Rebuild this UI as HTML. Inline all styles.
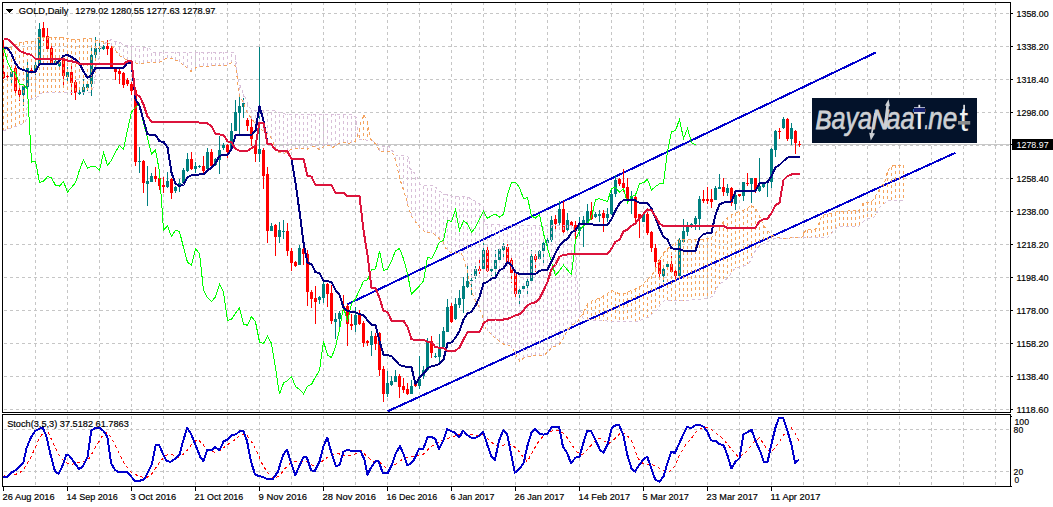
<!DOCTYPE html>
<html><head><meta charset="utf-8"><title>GOLD Daily</title>
<style>html,body{margin:0;padding:0;background:#fff}body{width:1053px;height:507px;overflow:hidden}</style></head>
<body>
<svg width="1053" height="507" viewBox="0 0 1053 507" style="display:block;font-family:'Liberation Sans',sans-serif">
<rect width="1053" height="507" fill="#fff"/>
<path d="M35.5 2V412M35.5 416V486M67.5 2V412M67.5 416V486M99.5 2V412M99.5 416V486M131.5 2V412M131.5 416V486M163.5 2V412M163.5 416V486M195.5 2V412M195.5 416V486M227.5 2V412M227.5 416V486M259.5 2V412M259.5 416V486M291.5 2V412M291.5 416V486M323.5 2V412M323.5 416V486M355.5 2V412M355.5 416V486M387.5 2V412M387.5 416V486M419.5 2V412M419.5 416V486M451.5 2V412M451.5 416V486M483.5 2V412M483.5 416V486M515.5 2V412M515.5 416V486M547.5 2V412M547.5 416V486M579.5 2V412M579.5 416V486M611.5 2V412M611.5 416V486M643.5 2V412M643.5 416V486M675.5 2V412M675.5 416V486M707.5 2V412M707.5 416V486M739.5 2V412M739.5 416V486M771.5 2V412M771.5 416V486M803.5 2V412M803.5 416V486M835.5 2V412M835.5 416V486M867.5 2V412M867.5 416V486M899.5 2V412M899.5 416V486M931.5 2V412M931.5 416V486M963.5 2V412M963.5 416V486M995.5 2V412M995.5 416V486" stroke="#c6c6c6" stroke-dasharray="3 3" fill="none" shape-rendering="crispEdges"/>
<path d="M4 13.5H1010M4 46.5H1010M4 79.5H1010M4 112.5H1010M4 145.5H1010M4 178.5H1010M4 211.5H1010M4 244.5H1010M4 277.5H1010M4 310.5H1010M4 343.5H1010M4 376.5H1010M4 409.5H1010M4 429.5H1010M4 471.5H1010" stroke="#c6c6c6" stroke-dasharray="3 3" fill="none" shape-rendering="crispEdges"/>
<path d="M3 144.5H1010" stroke="#c8c8c8" fill="none" shape-rendering="crispEdges"/>
<path d="M347.5 304.2L875.6 52.6M387.6 411.3L955.3 152.8" stroke="#0000cd" stroke-width="2" fill="none" shape-rendering="crispEdges"/>
<g shape-rendering="crispEdges"><path d="M3.5 40V79M7.5 74V80M15.5 66V95M19.5 85V101M31.5 68V74M43.5 22V41M47.5 28V52M51.5 46V64M63.5 57V88M71.5 63V95M75.5 80V100M107.5 40V55M111.5 45V68M115.5 67V80M119.5 68V84M123.5 72V88M127.5 78V86M131.5 82V95M135.5 88V166M143.5 160V193M155.5 167V182M159.5 177V190M163.5 177V193M171.5 178V199M191.5 152V170M203.5 156V174M211.5 149V167M227.5 144V158M247.5 118V131M251.5 117V146M255.5 145V162M263.5 148V189M267.5 167V243M275.5 224V256M287.5 223V256M291.5 248V271M295.5 261V267M303.5 248V265M307.5 250V306M311.5 290V308M315.5 286V324M327.5 283V307M331.5 285V324M343.5 295V311M347.5 304V346M351.5 314V330M359.5 310V325M363.5 321V347M367.5 340V346M375.5 333V350M379.5 332V376M383.5 366V402M399.5 374V398M403.5 378V393M407.5 383V395M415.5 383V387M431.5 336V358M451.5 303V323M479.5 260V274M487.5 246V272M507.5 244V264M511.5 258V283M515.5 272V298M535.5 254V272M555.5 215V229M563.5 201V234M571.5 221V229M575.5 221V239M591.5 202V220M603.5 210V232M619.5 178V186M623.5 169V192M627.5 178V200M635.5 196V223M639.5 214V238M647.5 212V235M651.5 231V252M655.5 244V268M659.5 260V278M671.5 256V273M675.5 268V281M703.5 190V203M707.5 187V204M711.5 189V208M723.5 178V196M731.5 187V206M739.5 194V197M747.5 173V186M755.5 178V193M779.5 128V139M787.5 118V141M795.5 130V154M799.5 141V147" stroke="#f00" fill="none"/><path d="M11.5 70V83M23.5 85V106M27.5 62V89M35.5 62V75M39.5 23V64M55.5 59V64M59.5 60V68M67.5 67V84M79.5 90V95M83.5 79V95M87.5 81V91M91.5 47V96M95.5 37V59M99.5 43V54M103.5 45V50M139.5 147V173M147.5 166V206M151.5 173V182M167.5 172V188M175.5 186V193M179.5 179V192M183.5 168V183M187.5 153V172M195.5 162V173M199.5 165V168M207.5 148V170M215.5 158V166M219.5 136V174M223.5 143V150M231.5 123V150M235.5 100V131M239.5 97V134M243.5 98V118M259.5 47V162M271.5 223V231M279.5 222V243M283.5 220V239M299.5 245V265M319.5 296V304M323.5 279V303M335.5 313V339M339.5 311V328M355.5 307V332M371.5 331V356M387.5 371V397M391.5 376V386M395.5 370V382M411.5 380V394M419.5 356V389M423.5 366V379M427.5 338V371M435.5 353V358M439.5 334V364M443.5 327V348M447.5 299V332M455.5 298V320M459.5 290V308M463.5 277V313M467.5 264V288M471.5 274V295M475.5 266V279M483.5 243V270M491.5 266V276M495.5 250V279M499.5 248V261M503.5 243V260M519.5 288V306M523.5 284V290M527.5 276V294M531.5 250V282M539.5 250V260M543.5 240V264M547.5 237V246M551.5 216V242M559.5 201V226M567.5 213V232M579.5 217V236M583.5 216V247M587.5 204V224M595.5 212V218M599.5 210V222M607.5 208V222M611.5 190V215M615.5 175V197M631.5 191V214M643.5 212V222M663.5 266V282M667.5 263V268M679.5 238V277M683.5 219V242M687.5 222V236M691.5 223V228M695.5 216V230M699.5 196V230M715.5 186V200M719.5 174V189M727.5 184V196M735.5 194V210M743.5 182V201M751.5 178V203M759.5 158V192M763.5 184V188M767.5 180V197M771.5 148V188M775.5 130V157M783.5 117V129M791.5 123V145" stroke="#008080" fill="none"/><path d="M2.0 72h3v6h-3zM6.0 76h3v1h-3zM14.0 68h3v23h-3zM18.0 90h3v5h-3zM30.0 70h3v2h-3zM42.0 28h3v10h-3zM46.0 36h3v13h-3zM50.0 48h3v15h-3zM62.0 58h3v18h-3zM70.0 72h3v11h-3zM74.0 82h3v11h-3zM106.0 46h3v3h-3zM110.0 48h3v19h-3zM114.0 68h3v4h-3zM118.0 71h3v3h-3zM122.0 73h3v12h-3zM126.0 80h3v4h-3zM130.0 84h3v7h-3zM134.0 90h3v72h-3zM142.0 161h3v22h-3zM154.0 176h3v3h-3zM158.0 178h3v8h-3zM162.0 185h3v2h-3zM170.0 179h3v14h-3zM190.0 159h3v10h-3zM202.0 166h3v5h-3zM210.0 152h3v14h-3zM226.0 145h3v7h-3zM246.0 120h3v6h-3zM250.0 127h3v12h-3zM254.0 146h3v8h-3zM262.0 150h3v26h-3zM266.0 174h3v57h-3zM274.0 225h3v12h-3zM286.0 231h3v20h-3zM290.0 251h3v12h-3zM294.0 262h3v4h-3zM302.0 249h3v5h-3zM306.0 254h3v38h-3zM310.0 292h3v7h-3zM314.0 298h3v4h-3zM326.0 284h3v10h-3zM330.0 293h3v28h-3zM342.0 306h3v2h-3zM346.0 306h3v18h-3zM350.0 324h3v2h-3zM358.0 315h3v9h-3zM362.0 323h3v20h-3zM366.0 341h3v2h-3zM374.0 336h3v8h-3zM378.0 333h3v37h-3zM382.0 369h3v25h-3zM398.0 376h3v11h-3zM402.0 386h3v4h-3zM406.0 389h3v5h-3zM414.0 384h3v2h-3zM430.0 341h3v12h-3zM450.0 306h3v16h-3zM478.0 269h3v2h-3zM486.0 250h3v21h-3zM506.0 247h3v16h-3zM510.0 260h3v13h-3zM514.0 273h3v21h-3zM534.0 256h3v4h-3zM554.0 219h3v5h-3zM562.0 209h3v23h-3zM570.0 222h3v4h-3zM574.0 225h3v6h-3zM590.0 211h3v8h-3zM602.0 213h3v5h-3zM618.0 179h3v5h-3zM622.0 183h3v5h-3zM626.0 187h3v12h-3zM634.0 197h3v21h-3zM638.0 214h3v5h-3zM646.0 214h3v19h-3zM650.0 232h3v16h-3zM654.0 248h3v14h-3zM658.0 260h3v14h-3zM670.0 264h3v8h-3zM674.0 271h3v5h-3zM702.0 199h3v2h-3zM706.0 199h3v2h-3zM710.0 199h3v3h-3zM722.0 187h3v5h-3zM730.0 188h3v15h-3zM738.0 194h3v2h-3zM746.0 183h3v1h-3zM754.0 178h3v12h-3zM778.0 131h3v1h-3zM786.0 119h3v20h-3zM794.0 131h3v12h-3zM798.0 144h3v1h-3z" fill="#f00"/><path d="M10.0 72h3v5h-3zM22.0 86h3v9h-3zM26.0 68h3v19h-3zM34.0 65h3v7h-3zM38.0 29h3v35h-3zM54.0 61h3v2h-3zM58.0 62h3v4h-3zM66.0 72h3v5h-3zM78.0 92h3v2h-3zM82.0 87h3v5h-3zM86.0 84h3v4h-3zM90.0 55h3v29h-3zM94.0 48h3v7h-3zM98.0 48h3v1h-3zM102.0 46h3v3h-3zM138.0 161h3v1h-3zM146.0 181h3v3h-3zM150.0 176h3v6h-3zM166.0 181h3v6h-3zM174.0 187h3v4h-3zM178.0 183h3v4h-3zM182.0 170h3v13h-3zM186.0 159h3v12h-3zM194.0 166h3v3h-3zM198.0 166h3v1h-3zM206.0 152h3v17h-3zM214.0 159h3v6h-3zM218.0 150h3v10h-3zM222.0 145h3v3h-3zM230.0 131h3v18h-3zM234.0 112h3v19h-3zM238.0 106h3v7h-3zM242.0 103h3v4h-3zM258.0 149h3v5h-3zM270.0 226h3v5h-3zM278.0 230h3v7h-3zM282.0 231h3v1h-3zM298.0 248h3v17h-3zM318.0 297h3v3h-3zM322.0 284h3v14h-3zM334.0 319h3v3h-3zM338.0 313h3v6h-3zM354.0 315h3v10h-3zM370.0 336h3v9h-3zM386.0 383h3v11h-3zM390.0 381h3v4h-3zM394.0 376h3v6h-3zM410.0 386h3v8h-3zM418.0 379h3v7h-3zM422.0 370h3v6h-3zM426.0 341h3v29h-3zM434.0 356h3v1h-3zM438.0 347h3v10h-3zM442.0 331h3v16h-3zM446.0 307h3v25h-3zM454.0 304h3v15h-3zM458.0 298h3v7h-3zM462.0 286h3v13h-3zM466.0 281h3v6h-3zM470.0 280h3v1h-3zM474.0 269h3v7h-3zM482.0 250h3v19h-3zM490.0 269h3v2h-3zM494.0 260h3v9h-3zM498.0 249h3v11h-3zM502.0 246h3v4h-3zM518.0 290h3v4h-3zM522.0 286h3v3h-3zM526.0 281h3v5h-3zM530.0 256h3v25h-3zM538.0 251h3v8h-3zM542.0 243h3v8h-3zM546.0 240h3v3h-3zM550.0 220h3v20h-3zM558.0 209h3v14h-3zM566.0 220h3v10h-3zM578.0 227h3v4h-3zM582.0 220h3v5h-3zM586.0 211h3v12h-3zM594.0 214h3v3h-3zM598.0 214h3v2h-3zM606.0 214h3v4h-3zM610.0 194h3v20h-3zM614.0 180h3v14h-3zM630.0 196h3v3h-3zM642.0 214h3v8h-3zM662.0 269h3v7h-3zM666.0 264h3v3h-3zM678.0 240h3v36h-3zM682.0 231h3v11h-3zM686.0 226h3v6h-3zM690.0 224h3v3h-3zM694.0 218h3v6h-3zM698.0 199h3v20h-3zM714.0 188h3v12h-3zM718.0 187h3v2h-3zM726.0 188h3v5h-3zM734.0 195h3v9h-3zM742.0 182h3v14h-3zM750.0 178h3v6h-3zM758.0 186h3v5h-3zM762.0 184h3v3h-3zM766.0 181h3v2h-3zM770.0 149h3v33h-3zM774.0 131h3v19h-3zM782.0 119h3v9h-3zM790.0 128h3v11h-3z" fill="#008080"/></g>
<g fill="none" stroke-dasharray="3 3" shape-rendering="crispEdges">
<path d="M111.5 46V40M115.5 51V42M119.5 56V42M123.5 58V46M127.5 60V46M131.5 62V46M135.5 63V46M139.5 64V46M143.5 63V47M147.5 63V48M151.5 62V50M155.5 62V52M159.5 62V52M163.5 60V52M167.5 58V52M171.5 59V52M175.5 60V52M179.5 62V52M183.5 65V52M187.5 68V52M191.5 71V52M195.5 68V52M199.5 67V52M203.5 66V52M207.5 66V52M211.5 66V52M215.5 66V52M219.5 66V52M223.5 66V52M227.5 65V52M231.5 63V52M235.5 66V57M239.5 96V84M243.5 103V94M247.5 113V103M251.5 119V109M255.5 124V110M259.5 128V110M263.5 131V110M267.5 134V110M271.5 139V110M275.5 148V111M279.5 153V113M283.5 154V114M287.5 151V114M291.5 150V114M295.5 148V114M299.5 149V114M303.5 149V114M307.5 149V114M311.5 146V114M315.5 147V114M319.5 150V114M323.5 146V114M327.5 145V114M331.5 147V114M335.5 146V114M339.5 143V114M343.5 142V114M347.5 143V114M351.5 143V114M355.5 141V117M379.5 151V145M383.5 151V147M387.5 151V147M391.5 151V150M395.5 160V155M399.5 178V155M403.5 190V155M407.5 204V157M411.5 216V170M415.5 222V175M419.5 227V183M423.5 231V185M427.5 233V186M431.5 233V186M435.5 235V187M439.5 239V191M443.5 243V194M447.5 250V195M451.5 252V196M455.5 253V196M459.5 254V197M463.5 259V197M467.5 272V197M471.5 290V199M475.5 301V201M479.5 308V204M483.5 320V207M487.5 331V225M491.5 335V225M495.5 338V225M499.5 341V225M503.5 344V225M507.5 345V225M511.5 348V225M515.5 354V225M519.5 361V225M523.5 358V225M527.5 357V225M531.5 356V225M535.5 355V225M539.5 356V225M543.5 356V225M547.5 352V225M551.5 348V225M555.5 346V225M559.5 344V225M563.5 338V225M567.5 330V225M571.5 325V225M575.5 323V240M579.5 318V307" stroke="#d8bfd8"/><path d="M3.5 50V131M7.5 48V129M11.5 47V128M15.5 45V126M19.5 43V125M23.5 42V123M27.5 41V103M31.5 41V99M35.5 41V97M39.5 37V95M43.5 37V93M47.5 37V92M51.5 37V92M55.5 37V92M59.5 37V92M63.5 37V92M67.5 39V92M71.5 39V92M75.5 40V92M79.5 39V92M83.5 39V92M87.5 39V92M91.5 39V91M95.5 40V74M99.5 40V54M103.5 42V44M359.5 129V138M363.5 115V140M367.5 122V140M583.5 312V318M587.5 305V319M591.5 301V320M595.5 300V320M599.5 298V320M603.5 296V321M607.5 293V321M611.5 290V321M615.5 292V322M619.5 293V322M623.5 293V322M627.5 292V322M631.5 291V322M635.5 289V322M639.5 287V321M643.5 284V319M647.5 279V317M651.5 276V314M655.5 269V311M659.5 259V306M663.5 253V301M667.5 249V301M671.5 246V301M675.5 243V301M679.5 240V301M683.5 240V301M687.5 240V301M691.5 240V300M695.5 239V299M699.5 239V299M703.5 239V299M707.5 239V299M711.5 237V297M715.5 233V290M719.5 228V284M723.5 222V281M727.5 217V278M731.5 215V273M735.5 213V268M739.5 212V267M743.5 210V266M747.5 208V264M751.5 205V258M755.5 209V250M759.5 215V246M763.5 225V244M767.5 231V242M771.5 235V240M803.5 233V238M807.5 230V238M811.5 230V238M815.5 229V238M819.5 222V238M823.5 215V238M827.5 214V238M831.5 214V233M835.5 213V229M839.5 211V226M843.5 211V226M847.5 211V226M851.5 211V226M855.5 211V226M859.5 210V225M863.5 203V222M867.5 202V219M871.5 202V219M875.5 196V215M879.5 189V207M883.5 184V204M887.5 172V201M891.5 167V200M895.5 165V200M899.5 165V200M903.5 165V200" stroke="#f4a460"/>
<polyline points="3,131 12.4,127.3 20.7,124.8 25.9,121 27.6,101.6 33,98 37.9,96.8 41,93.3 44,92.5 91,92.5 93.7,86.8 96,70.2 99,55 103,44.5 107,42 111,39.7 115.7,41.8 120.5,42.6 123.6,45.8 140,46.3 150,48.9 153,52.1 232,52.1 235.2,53.7 236,61.6 237.6,75.8 239.2,83.6 243.1,93.1 246.3,100.2 250.5,108.9 255.2,110.5 274.2,110.5 277.3,112.1 286.8,114.5 353,114.5 356.3,117.9 358,135 360,139.5 366,140 372,140.3 376.8,143.1 381.6,146.6 389.4,146.6 391.8,150.2 395.8,155 405.2,155 408.4,157.3 410,168.4 414.7,173.1 417.8,178.6 420.2,184.2 424.2,185.7 435.2,186 436.8,189 437.9,190 444.2,194 452,196.3 467.8,197.1 472.6,199.5 480.5,204.2 483.6,207.4 485.2,224.7 527.8,225.5 573,225 575.5,240 576.8,279.5 578.3,293.7 579.1,306.3 583,318 590,320 599.4,320.2 607.3,321 615.2,321.8 638.9,321.8 642,319.4 648.4,317.1 653.1,313.1 657.8,309.2 661,303.6 664.1,300.8 686.2,300.8 694.1,299.2 708.3,298.9 713.1,295.8 716.2,288.7 719.6,284 724,281 728,278 732,272 735.2,268.1 738.4,267.3 744.7,265.7 749.4,262.6 752.6,256.3 755.7,250 760.5,245.2 766.8,242.1 771.5,239.7 776.2,238.1 827.3,237.8 830.3,234.8 835.2,228.9 839.2,226 858.9,226 862.9,222 866.8,219 872.7,218.7 876.7,213.1 879.6,207.2 884.6,203.3 888.5,200.3 903.5,200.3" stroke="#d8bfd8"/>
<polyline points="3,50 11,47 19,43 23,41.6 35,41 39,37.3 63,37.3 67,38.7 75,40 83,38.7 91,38.7 95,40.3 99,40.3 103,41.5 107,42.5 111,45 115,50 119,55.2 123,58 127,60 133,62.3 139,63.9 147,63 151.6,62.3 159.5,62.3 167.4,57.6 173.7,59.2 179.2,61.6 183.9,65.5 191,71.3 195.8,67.9 202,66.3 227.3,65.5 232,62.3 236,67.1 237.6,82 239.5,96.3 243.4,102.6 247.4,112.9 251,118 255,123 259,127 263,131 268.7,134.2 272.6,140.5 275,147.6 278.9,152.3 283.6,153.9 288.4,150.7 294.7,148.4 301,148.7 307.3,149.2 312,146 316,147.1 320,150 324.7,145.2 328.6,145.5 332.6,147.6 337.3,144.4 342,142.1 348.3,143.6 355.4,141.3 359.4,130 361,121.6 363.5,114.8 367.4,121 369.7,133.7 371.3,140.8 376,143.9 379.2,151 391.8,151.3 393.4,155 395.8,160.5 397.3,167.6 399.7,178.6 403,188.5 405.5,196.3 407.9,205.8 411,215.2 415.8,222.3 420.5,228.2 426,232.6 433.1,233.4 437.9,237.3 443,242.2 445.8,248.5 450.5,252.3 461.6,254 463.9,260 467,270 469.4,282 471.5,290 474.2,298.4 478.9,306.8 482.1,315 485.8,328.9 490.5,333.7 496.8,339.2 503.1,343.9 509.4,345.5 513.4,349.4 515.8,355 519.7,361.3 523.6,358.1 530,356.5 533.1,355 537.9,355.8 543.4,355.8 548.1,351.8 552,347.1 558.4,345.5 563.1,339.2 566.3,332.1 571,325.8 577.3,321.8 582,314.7 584.7,310.2 587.8,303.9 592.5,300.8 598.9,298.4 605.2,295.2 611.5,290.5 618.4,293.4 624.7,293.4 631,290.7 637.3,288.2 642,285.5 646.8,280 651.5,276 654.7,270.5 659.5,259.4 664.2,252.3 668.9,247.6 673.7,244.4 678.4,239.7 691,239.7 697.3,239.2 710,238.9 714.7,234.2 719.4,227.9 724.2,220.8 728.9,216 735.2,212.9 743.1,210.5 747.8,208.1 751,205 754.9,208.1 758.9,213.7 760.5,218.4 763.6,225.5 767.6,230.7 771.5,235 776.2,237.3 784.1,238.1 801.7,237.8 803.7,232.9 806.6,229.9 815.5,229.3 818.5,224 821.4,217.1 824.4,214.1 834.3,213.5 837.2,211.2 858.9,210.8 861.9,206.2 862.9,202.9 871.7,201.7 874.7,197.3 877.7,192.4 880.6,186.5 884.6,182.5 886.5,173.7 889.5,167.8 893.4,165.4 903.5,165.4" stroke="#f4a460"/>
</g>
<polyline points="3.5,48 7.5,61.5 11.5,70.6 15.5,73 19.5,84.2 23.5,84.2 27.5,89.3 31.5,162.1 35.5,161.3 39.5,182.3 43.5,181.3 47.5,176.6 51.5,177.9 55.5,185.3 59.5,186.2 63.5,181.5 67.5,192.1 71.5,187.3 75.5,182.6 79.5,170 83.5,159.7 87.5,168.4 91.5,166.4 95.5,166.4 99.5,170.3 103.5,152.6 107.5,165.2 111.5,160.5 115.5,151.8 119.5,145.5 123.5,149.2 127.5,130 131.5,112 135.5,107.4 139.5,103.9 143.5,123 147.5,138 151.5,154.2 155.5,149.8 159.5,171.6 163.5,230 167.5,226 171.5,236.6 175.5,230.3 179.5,231.6 183.5,247.3 187.5,262.3 191.5,265 195.5,248.6 199.5,253.6 203.5,290 207.5,297.6 211.5,301.6 215.5,296.8 219.5,284.5 223.5,292.1 227.5,320.5 231.5,319.2 235.5,313.4 239.5,307.6 243.5,324.4 247.5,325.2 251.5,316.5 255.5,322 259.5,342 263.5,343.5 267.5,336 271.5,343.5 275.5,368.1 279.5,394.2 283.5,383.1 287.5,380.7 291.5,376.5 295.5,386.6 299.5,389.4 303.5,393.8 307.5,386.3 311.5,384.4 315.5,376.8 319.5,370.5 323.5,341.3 327.5,355 331.5,357.6 335.5,346.8 339.5,329.5 343.5,307 347.5,321.6 351.5,303.4 355.5,299 359.5,290 363.5,281.2 367.5,279.7 371.5,269.7 375.5,268.9 379.5,251 383.5,270.5 387.5,269.3 391.5,261 395.5,250.8 399.5,248.4 403.5,258.7 407.5,273.7 411.5,294.2 415.5,290.2 419.5,286 423.5,280.8 427.5,257.1 431.5,258.7 435.5,250.8 439.5,242.1 443.5,240.2 447.5,220.3 451.5,221.6 455.5,209.7 459.5,230.7 463.5,220.8 467.5,223.9 471.5,232.3 475.5,227.1 479.5,219.2 483.5,211.3 487.5,218.4 491.5,215.5 495.5,214.4 499.5,217.1 503.5,214.4 507.5,194.7 511.5,182.1 515.5,182.1 519.5,187.6 523.5,198.7 527.5,197.6 531.5,216 535.5,218 539.5,214.4 543.5,233.7 547.5,247.9 551.5,262 555.5,275.5 559.5,270.7 563.5,265.2 567.5,270 571.5,274.7 575.5,240 579.5,230.5 583.5,225.8 587.5,223.4 591.5,217.1 595.5,199.8 599.5,198.7 603.5,200.2 607.5,201.3 611.5,188.7 615.5,187.1 619.5,192.3 623.5,188.7 627.5,202.9 631.5,196.5 635.5,195 639.5,183.5 643.5,182.8 647.5,179.2 651.5,190.2 655.5,186.3 659.5,183.9 663.5,183.1 667.5,151.6 671.5,131.6 675.5,130.8 679.5,119.3 683.5,138.7 687.5,128.4 691.5,142.6 695.5,145" fill="none" stroke="#0f0" stroke-width="1" shape-rendering="crispEdges"/>
<polyline points="3.5,47.9 7.5,47.9 11.5,54 15.5,63.6 19.5,68.4 23.5,70 27.5,71.5 31.5,71.5 35.5,71.5 39.5,64.4 43.5,64.4 47.5,64.4 51.5,64.4 55.5,64.4 59.5,60.5 63.5,55.8 67.5,55 71.5,57 75.5,59.7 79.5,63.7 83.5,71.5 87.5,77.8 91.5,75.5 95.5,67.6 99.5,67.6 103.5,67.6 107.5,67.6 111.5,67.6 115.5,67.6 119.5,67.6 123.5,67.6 127.5,62.9 131.5,62.9 135.5,99 139.5,106 143.5,120.2 147.5,134.4 151.5,134.7 155.5,135 159.5,141.3 163.5,141.8 167.5,147.3 171.5,172.6 175.5,183.5 179.5,186 183.5,184.5 187.5,177.3 191.5,175.4 195.5,175 199.5,174.5 203.5,174.2 207.5,170.2 211.5,167.8 215.5,163.1 219.5,156 223.5,154.9 227.5,154.9 231.5,148.9 235.5,135.5 239.5,135 243.5,135 247.5,135 251.5,135 255.5,130.8 259.5,106 263.5,121 267.5,144 271.5,144.5 275.5,150 279.5,150.9 283.5,150.9 287.5,151.5 291.5,159 295.5,183 299.5,211.5 303.5,242.5 307.5,263.1 311.5,263.9 315.5,272.3 319.5,272.9 323.5,280.8 327.5,281.3 331.5,281.8 335.5,290 339.5,294.7 343.5,307.5 347.5,311 351.5,311.8 355.5,312.3 359.5,314.2 363.5,315 367.5,320.5 371.5,324.9 375.5,325.2 379.5,341 383.5,354.7 387.5,355.3 391.5,355.9 395.5,360.6 399.5,365.1 403.5,366.2 407.5,366.9 411.5,367.1 415.5,384.2 419.5,377.6 423.5,373.9 427.5,368.5 431.5,366.2 435.5,365.4 439.5,363.8 443.5,359.8 447.5,343.4 451.5,342.3 455.5,337.9 459.5,330.8 463.5,319.7 467.5,313.5 471.5,311.8 475.5,305.5 479.5,297 483.5,283.4 487.5,281.8 491.5,278.7 495.5,277.6 499.5,270 503.5,268.4 507.5,262.1 511.5,265.2 515.5,272.3 519.5,273.9 523.5,273.9 527.5,273.9 531.5,273.9 535.5,273.9 539.5,270.8 543.5,270 547.5,269.7 551.5,261.7 555.5,253 559.5,246 563.5,241.2 567.5,239 571.5,232.1 575.5,230.5 579.5,223.4 583.5,223.9 587.5,223.9 591.5,224.2 595.5,225 599.5,225 603.5,225 607.5,225 611.5,219 615.5,210.4 619.5,203.6 623.5,200.2 627.5,199.7 631.5,199.7 635.5,200.5 639.5,202.9 643.5,202.9 647.5,203.3 651.5,208.4 655.5,217.9 659.5,228.5 663.5,236.8 667.5,239.7 671.5,248.3 675.5,248.9 679.5,249.2 683.5,250.7 687.5,250.7 691.5,250.7 695.5,250.7 699.5,238.1 703.5,234 707.5,233.3 711.5,232.6 715.5,214.7 719.5,204.4 723.5,202.6 727.5,201.9 731.5,201.5 735.5,191.3 739.5,191 743.5,191 747.5,191 751.5,191 755.5,190.7 759.5,183.5 763.5,182.8 767.5,182.3 771.5,176 775.5,167.4 779.5,165 783.5,161 787.5,157.6 791.5,156.6 795.5,156.6 799.5,156.6" fill="none" stroke="#000080" stroke-width="2" stroke-linejoin="round" shape-rendering="crispEdges"/>
<polyline points="3.5,39.2 7.5,39.2 11.5,42.3 15.5,46.5 19.5,50.7 23.5,52.6 27.5,53.9 31.5,55 35.5,58.9 39.5,58.9 43.5,58.9 47.5,58.9 51.5,58.9 55.5,58.9 59.5,58.9 63.5,58.9 67.5,60.5 71.5,61.3 75.5,62.1 79.5,64.1 83.5,64.1 87.5,64.1 91.5,64.1 95.5,64.1 99.5,64.1 103.5,64.1 107.5,64.1 111.5,64.1 115.5,64.1 119.5,64.1 123.5,64.1 127.5,61.3 131.5,61.3 135.5,95 139.5,95.8 143.5,104.5 147.5,116.3 151.5,121.8 155.5,121.8 159.5,121.8 163.5,121.8 167.5,121.8 171.5,121.8 175.5,121.8 179.5,121.8 183.5,121.8 187.5,121.8 191.5,121.8 195.5,121.8 199.5,122.6 203.5,122.9 207.5,123.4 211.5,126 215.5,133.9 219.5,134.4 223.5,135 227.5,141.3 231.5,142.3 235.5,148.9 239.5,150.8 243.5,151.3 247.5,150.8 251.5,148.1 255.5,145.8 259.5,122.6 263.5,122.6 267.5,144 271.5,144.5 275.5,150 279.5,150.9 283.5,150.9 287.5,151.5 291.5,159 295.5,159 299.5,159 303.5,159 307.5,175.8 311.5,176.6 315.5,185 319.5,185 323.5,185 327.5,185 331.5,185 335.5,192.8 339.5,192.8 343.5,193 347.5,196 351.5,196 355.5,196 359.5,196 363.5,230 367.5,255.2 371.5,287.6 375.5,288 379.5,298 383.5,311 387.5,311.8 391.5,320.5 395.5,320.5 399.5,320.5 403.5,320.8 407.5,326.8 411.5,339.4 415.5,339.8 419.5,339.8 423.5,339.8 427.5,341.8 431.5,342.3 435.5,347.3 439.5,347.7 443.5,348.1 447.5,350.8 451.5,350.8 455.5,350.8 459.5,347.3 463.5,339.4 467.5,332.3 471.5,332 475.5,332 479.5,332 483.5,323.7 487.5,320.2 491.5,319.7 495.5,319.5 499.5,319.5 503.5,319.5 507.5,318.9 511.5,317.3 515.5,315.4 519.5,314.2 523.5,310.2 527.5,305.5 531.5,303.1 535.5,302.3 539.5,298.4 543.5,290.5 547.5,281.8 551.5,269.2 555.5,264.5 559.5,256.6 563.5,255 567.5,254.5 571.5,254 575.5,254 579.5,254 583.5,254 587.5,254 591.5,254 595.5,254 599.5,254 603.5,254 607.5,254 611.5,248.7 615.5,241.6 619.5,240 623.5,231.3 627.5,229.7 631.5,225.8 635.5,223.4 639.5,218.3 643.5,214 647.5,209.5 651.5,210.4 655.5,216.7 659.5,223.4 663.5,226 667.5,226 671.5,226 675.5,226 679.5,226 683.5,226 687.5,226 691.5,226 695.5,226 699.5,226 703.5,226 707.5,226 711.5,226 715.5,226 719.5,226 723.5,226 727.5,228.1 731.5,228.1 735.5,228.1 739.5,228.1 743.5,228.1 747.5,228.1 751.5,228.1 755.5,227.6 759.5,221 763.5,219.4 767.5,218.6 771.5,213.1 775.5,205.2 779.5,202.9 783.5,180 787.5,176 791.5,174.5 795.5,174 799.5,174" fill="none" stroke="#dc143c" stroke-width="2" stroke-linejoin="round" shape-rendering="crispEdges"/>
<polyline points="2.8,476.9 9.5,473.6 16.1,474.2 22.8,470.8 30.4,458.4 38,441.3 44.6,429.9 48.4,432.8 53.2,443.2 58.9,454.6 64.6,462.2 71.2,464.7 77.9,462.2 83.6,461.7 89.3,458.4 95,448 102.6,435.6 107.3,432.4 112.1,439.4 117.8,450.8 123.5,462.2 131.1,472.3 138.7,476.1 146.2,478 151.9,473.6 157.6,465.1 165.2,455.2 171.9,454.6 178.5,457.5 185.2,452.7 191.8,444.2 197.5,439.4 201.9,443.2 207.6,450.8 215.2,452.2 220.9,449.9 226.6,445.1 234.2,440.4 240.8,434.7 245.6,433.7 251.3,441.3 257,451.8 262.7,465.1 268.4,473.6 274.1,478.8 279.8,475.5 285.5,467.9 291.2,462.2 298.8,461.7 306.4,461.3 312.1,465.1 317.8,465.1 323.5,460.3 331.1,454.6 338.7,453.7 346.2,456.5 353.8,454.6 361.4,450.8 367.1,456.5 372.8,461.3 379.5,462.2 385.2,467 390.9,467 397.5,463.2 400.9,460.3 407.6,457.5 415.2,456.5 422.8,454.6 430.4,447 438,442.3 445.6,439.4 453.2,436.6 460.8,433.7 468.4,434.3 476,435.6 483.6,434.7 489.3,440.4 495,445.1 500.7,446.1 506.4,444.2 512.1,445.1 517.8,449.9 523.5,457.5 527.3,461.7 533,450.8 538.7,441.3 544.3,434.7 551.9,430.9 559.5,430.5 565.2,434.7 570.9,443.2 576.6,451.8 582.3,454.6 588,448.9 593.7,442.3 599.4,438.5 601.9,439.4 608.5,443.8 615.2,438.5 620.9,432.4 626.6,434.7 632.3,442.3 638,458.4 643.7,464.1 651.3,464.1 657,467 662.7,470.4 668.4,472.3 674.1,467 679.8,454.6 685.5,445.1 691.2,438.5 696.9,430.9 702.6,427.5 708.3,427.5 715.9,432.8 723.5,439.4 731.1,448.9 738.7,457.5 746.2,451.8 753.8,442.3 759.5,437.5 761.9,441.3 767.6,449.9 771.4,452.2 777.1,445.1 782.8,436.6 787.5,429 791.3,428 795.1,432.8 798.9,441.3" fill="none" stroke="#f00" stroke-width="1" stroke-dasharray="3 3" shape-rendering="crispEdges"/>
<polyline points="2.8,476.9 7.6,476.9 11.4,472.7 15.2,470.4 19,467 23.2,463.2 26.6,448 30.4,438.5 35.1,430.9 38.9,429 42.7,427.5 46.5,436.6 50.3,453.7 55.1,471.7 58.9,473.6 62.7,465.1 66.5,454.6 69.3,455.6 74.1,462.2 78.8,468.9 82.6,467 87.4,457.5 91.2,430.9 95,428 98.8,427.5 103.5,430.9 107.3,436.6 111.1,463.2 114.9,469.8 117.8,471.7 126.3,471.7 131.1,476.5 134.9,480.8 139.6,480.8 144.3,479.3 148.1,471.7 151.9,464.1 155.7,445.1 159.2,445.1 163.3,454.6 166.8,461.3 170.9,461.7 175.7,458.4 179.5,454.6 183.3,440.4 187.1,428 190.9,433.7 195.6,445.1 200,456.5 203.4,461.3 207.2,449.9 211.8,449.9 215.2,447 219.4,450.3 223.7,441.3 227.5,439.4 232.3,435.1 236.1,434.3 239.9,430.9 243.3,430.5 247.1,441.3 250.9,461.3 255.1,474.6 258.9,476.1 262.7,476.9 266.5,478.8 273.1,478.8 277.9,471.7 283.2,454.6 287,449.5 291.2,463.2 295.3,475.5 299.7,465.1 303.5,457.1 306.7,457.1 311.1,470.4 314.9,470.8 319.3,462.2 323.5,446.1 327.3,437.5 331.4,452.7 335.8,466 339.6,465.1 343.4,451.8 347.2,449.9 351,450.8 360.5,450.8 364.3,459.4 367.5,474.6 371.9,466 375.7,461.3 378.5,460.9 382.7,472.7 388,472.7 391.8,465.1 395.6,453.7 400,446.1 403.8,454.6 407.2,465.1 410.4,464.1 414.2,459.4 419,448.9 423.2,448.9 427.5,437.5 431.3,437 435.1,438.5 438.9,448.9 443.3,440.4 447.1,429 450.9,430.9 455.1,432.8 459.3,437.5 463.1,430.5 466.9,434.7 471.2,437.5 475,438.1 479.4,435.6 483.2,431.8 487.4,445.1 491.5,456.5 495,459.8 499.1,440.4 503.5,429.9 507.3,434.7 511.1,453.7 514.9,472.7 519.3,468.9 523.5,463.2 527.3,446.1 531.4,432.8 535.2,429 539.6,433.7 543.4,434.7 547.2,433.7 551.6,427.5 554.8,427.1 559.2,427.1 563,447 567.1,452.7 570.9,463.2 575.7,457.5 579.5,456.5 583.3,443.2 587.1,430.9 590.9,430.9 595.6,440.4 600,449.9 603.4,452.7 607.6,444.2 611.8,428 615.6,425.2 619,424.8 623.2,434.7 627.5,455.6 631.3,467.9 635.1,471.7 638.9,465.1 643.3,459.8 647.1,456.5 650.9,467 655.1,479.3 659.3,481.8 663.6,476.5 667.4,463.2 671.2,452.2 675,452.7 679.4,443.2 683.2,434.7 687,427.1 691.2,428 695.3,425.2 699.7,424.8 703.5,426.7 707.3,431.8 711.1,440.4 715.5,440.8 719.3,444.2 723.5,445.1 727.6,455.6 731.4,468.5 735.2,462.2 739.6,457.9 743.4,434.3 747.2,432.4 751.6,429.9 755.4,440.4 759.5,449.9 760,450.8 763.8,461.7 767.6,461.7 771.8,442.3 775.6,427.1 779,418 783.2,418 787.5,430.9 791.3,444.2 795.1,462.8 798.9,459.8" fill="none" stroke="#0000cd" stroke-width="2" stroke-linejoin="round" shape-rendering="crispEdges"/>
<g fill="none" stroke="#000" shape-rendering="crispEdges"><path d="M2.5 2.5H1010.5V412.5H2.5zM2.5 414.5H1010.5V486.5H2.5z"/>
<path d="M1011 13.5h2M1011 46.5h2M1011 79.5h2M1011 112.5h2M1011 178.5h2M1011 211.5h2M1011 244.5h2M1011 277.5h2M1011 310.5h2M1011 343.5h2M1011 376.5h2M1011 409.5h2M1011 144.5h2M1011 416.5h1M1011 486.5h1M3.5 487v4M67.5 487v4M131.5 487v4M195.5 487v4M259.5 487v4M323.5 487v4M387.5 487v4M451.5 487v4M515.5 487v4M579.5 487v4M643.5 487v4M707.5 487v4M771.5 487v4"/></g>
<rect x="812" y="98" width="165" height="45" fill="#03122a"/>
<text y="128.9" font-weight="bold" font-style="italic" fill="#cdd0d4"><tspan x="815.6" font-size="25.6" font-weight="normal" stroke="#cdd0d4" stroke-width="0.9" textLength="16" lengthAdjust="spacingAndGlyphs">B</tspan><tspan x="831.4" font-size="31.6" font-weight="normal" stroke="#cdd0d4" stroke-width="0.7" textLength="40.6" lengthAdjust="spacingAndGlyphs">aya</tspan><tspan x="871.4" font-size="27" font-weight="normal" stroke="#cdd0d4" stroke-width="1" textLength="17.4" lengthAdjust="spacingAndGlyphs">N</tspan><tspan x="886.2" font-size="31.6" font-weight="normal" stroke="#cdd0d4" stroke-width="0.7" textLength="28.4" lengthAdjust="spacingAndGlyphs">aa</tspan><tspan x="913.6" font-size="30" font-style="normal" fill="#f4f4f4" textLength="11.6" lengthAdjust="spacingAndGlyphs">T</tspan><tspan x="924.4" font-size="31.6" font-weight="normal" stroke="#cdd0d4" stroke-width="0.7" textLength="4.2" lengthAdjust="spacingAndGlyphs">.</tspan><tspan x="928.2" font-size="31.6" font-weight="normal" stroke="#cdd0d4" stroke-width="0.7" textLength="29" lengthAdjust="spacingAndGlyphs">ne</tspan><tspan x="959.6" y="130.6" font-size="34" font-weight="normal" font-style="normal" fill="#f0f0f0" textLength="8.6" lengthAdjust="spacingAndGlyphs">t</tspan></text>
<path d="M874.2 113h3.4L872.6 133l2.4.4-4.2 7-1.6-7.6 1.8.2zM883.6 128.8h3.2L888.9 106l1 .2-1.3-7-3.6 6.4 1.2.2z" fill="#cdd0d4"/>
<rect x="918.4" y="104.8" width="1.8" height="4" fill="#f0f0f0"/><rect x="914" y="107.2" width="11" height="1" fill="#cfd3e6"/><rect x="914" y="108" width="11" height="4.2" fill="#17216e"/><rect x="914" y="112.2" width="11" height="1.5" fill="#eee"/>
<rect x="963.3" y="104.8" width="1.6" height="6" fill="#f0f0f0"/><rect x="958" y="121" width="12.2" height="3.6" fill="#8a8c8e"/>
<path d="M6 9h7v1h-7zM7 10h5v1h-5zM8 11h3v1h-3zM9 12h1v1h-1z" fill="#000" shape-rendering="crispEdges"/>
<text x="18.7" y="13.6" fill="#000" font-size="9.4" stroke="#000" stroke-width="0.18" textLength="49.7" lengthAdjust="spacingAndGlyphs">GOLD,Daily</text>
<text x="75.2" y="13.6" fill="#000" font-size="9.4" stroke="#000" stroke-width="0.18" textLength="140.2" lengthAdjust="spacingAndGlyphs">1279.02 1280.55 1277.63 1278.97</text>
<text x="7.2" y="426.6" fill="#000" font-size="9.4" stroke="#000" stroke-width="0.18" textLength="121.6" lengthAdjust="spacingAndGlyphs">Stoch(3,5,3) 37.5182 61.7863</text>
<text x="1016.6" y="16.7" fill="#000" font-size="9.4" stroke="#000" stroke-width="0.18" textLength="32" lengthAdjust="spacingAndGlyphs">1358.00</text>
<text x="1016.6" y="49.7" fill="#000" font-size="9.4" stroke="#000" stroke-width="0.18" textLength="32" lengthAdjust="spacingAndGlyphs">1338.20</text>
<text x="1016.6" y="82.7" fill="#000" font-size="9.4" stroke="#000" stroke-width="0.18" textLength="32" lengthAdjust="spacingAndGlyphs">1318.40</text>
<text x="1016.6" y="115.7" fill="#000" font-size="9.4" stroke="#000" stroke-width="0.18" textLength="32" lengthAdjust="spacingAndGlyphs">1298.00</text>
<text x="1016.6" y="181.7" fill="#000" font-size="9.4" stroke="#000" stroke-width="0.18" textLength="32" lengthAdjust="spacingAndGlyphs">1258.40</text>
<text x="1016.6" y="214.7" fill="#000" font-size="9.4" stroke="#000" stroke-width="0.18" textLength="32" lengthAdjust="spacingAndGlyphs">1238.00</text>
<text x="1016.6" y="247.7" fill="#000" font-size="9.4" stroke="#000" stroke-width="0.18" textLength="32" lengthAdjust="spacingAndGlyphs">1218.20</text>
<text x="1016.6" y="280.7" fill="#000" font-size="9.4" stroke="#000" stroke-width="0.18" textLength="32" lengthAdjust="spacingAndGlyphs">1198.40</text>
<text x="1016.6" y="313.7" fill="#000" font-size="9.4" stroke="#000" stroke-width="0.18" textLength="32" lengthAdjust="spacingAndGlyphs">1178.00</text>
<text x="1016.6" y="346.7" fill="#000" font-size="9.4" stroke="#000" stroke-width="0.18" textLength="32" lengthAdjust="spacingAndGlyphs">1158.20</text>
<text x="1016.6" y="379.7" fill="#000" font-size="9.4" stroke="#000" stroke-width="0.18" textLength="32" lengthAdjust="spacingAndGlyphs">1138.40</text>
<text x="1016.6" y="412.7" fill="#000" font-size="9.4" stroke="#000" stroke-width="0.18" textLength="32" lengthAdjust="spacingAndGlyphs">1118.60</text>
<rect x="1012" y="139" width="41" height="11" fill="#000"/>
<text x="1016.6" y="147.8" fill="#fff" font-size="9.4" textLength="32" lengthAdjust="spacingAndGlyphs">1278.97</text>
<text x="1014.5" y="424.7" fill="#000" font-size="9.4" stroke="#000" stroke-width="0.18" textLength="14.6" lengthAdjust="spacingAndGlyphs">100</text>
<text x="1013.6" y="432.7" fill="#000" font-size="9.4" stroke="#000" stroke-width="0.18" textLength="9.6" lengthAdjust="spacingAndGlyphs">80</text>
<text x="1013.6" y="474.5" fill="#000" font-size="9.4" stroke="#000" stroke-width="0.18" textLength="9.6" lengthAdjust="spacingAndGlyphs">20</text>
<text x="1014.6" y="482.6" fill="#000" font-size="9.4" stroke="#000" stroke-width="0.18" textLength="4.6" lengthAdjust="spacingAndGlyphs">0</text>
<text x="2.6" y="499.6" fill="#000" font-size="9.4" stroke="#000" stroke-width="0.18" textLength="52" lengthAdjust="spacingAndGlyphs">26 Aug 2016</text>
<text x="66.6" y="499.6" fill="#000" font-size="9.4" stroke="#000" stroke-width="0.18" textLength="51.3" lengthAdjust="spacingAndGlyphs">14 Sep 2016</text>
<text x="130.6" y="499.6" fill="#000" font-size="9.4" stroke="#000" stroke-width="0.18" textLength="45.6" lengthAdjust="spacingAndGlyphs">3 Oct 2016</text>
<text x="194.6" y="499.6" fill="#000" font-size="9.4" stroke="#000" stroke-width="0.18" textLength="48.7" lengthAdjust="spacingAndGlyphs">21 Oct 2016</text>
<text x="258.6" y="499.6" fill="#000" font-size="9.4" stroke="#000" stroke-width="0.18" textLength="48.4" lengthAdjust="spacingAndGlyphs">9 Nov 2016</text>
<text x="322.6" y="499.6" fill="#000" font-size="9.4" stroke="#000" stroke-width="0.18" textLength="53.3" lengthAdjust="spacingAndGlyphs">28 Nov 2016</text>
<text x="386.6" y="499.6" fill="#000" font-size="9.4" stroke="#000" stroke-width="0.18" textLength="50.7" lengthAdjust="spacingAndGlyphs">16 Dec 2016</text>
<text x="450.6" y="499.6" fill="#000" font-size="9.4" stroke="#000" stroke-width="0.18" textLength="43.8" lengthAdjust="spacingAndGlyphs">6 Jan 2017</text>
<text x="514.6" y="499.6" fill="#000" font-size="9.4" stroke="#000" stroke-width="0.18" textLength="49.8" lengthAdjust="spacingAndGlyphs">26 Jan 2017</text>
<text x="578.6" y="499.6" fill="#000" font-size="9.4" stroke="#000" stroke-width="0.18" textLength="51.4" lengthAdjust="spacingAndGlyphs">14 Feb 2017</text>
<text x="642.6" y="499.6" fill="#000" font-size="9.4" stroke="#000" stroke-width="0.18" textLength="46.2" lengthAdjust="spacingAndGlyphs">5 Mar 2017</text>
<text x="706.6" y="499.6" fill="#000" font-size="9.4" stroke="#000" stroke-width="0.18" textLength="51.3" lengthAdjust="spacingAndGlyphs">23 Mar 2017</text>
<text x="770.6" y="499.6" fill="#000" font-size="9.4" stroke="#000" stroke-width="0.18" textLength="49.8" lengthAdjust="spacingAndGlyphs">11 Apr 2017</text>
</svg>
</body></html>
